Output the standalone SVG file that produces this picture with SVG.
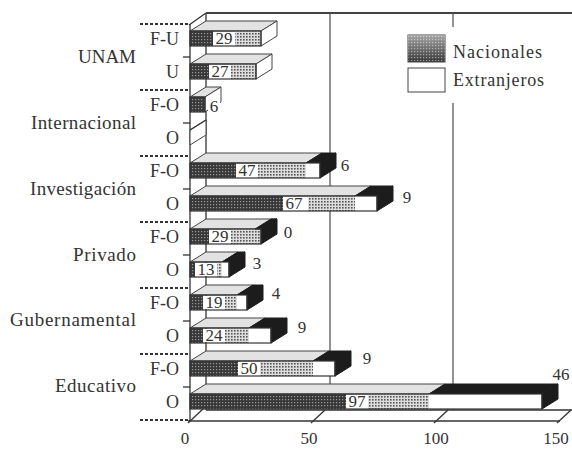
<svg xmlns="http://www.w3.org/2000/svg" width="572" height="449" viewBox="0 0 572 449">
<defs>
<pattern id="pd" width="3" height="3" patternUnits="userSpaceOnUse"><rect width="3" height="3" fill="#383838"/><rect x="0" y="0" width="1.2" height="1.2" fill="#9a9a9a"/></pattern>
<pattern id="pl" width="3" height="3" patternUnits="userSpaceOnUse"><rect width="3" height="3" fill="#dedede"/><rect x="0" y="0" width="1.6" height="1.6" fill="#555"/></pattern>
<linearGradient id="lg" x1="0" y1="0" x2="0" y2="1"><stop offset="0" stop-color="#fff" stop-opacity="0.55"/><stop offset="1" stop-color="#fff" stop-opacity="0"/></linearGradient>
<style>
text{font-family:"Liberation Serif","Times New Roman",serif;fill:#333}
.cat{font-size:19px;text-anchor:end}
.sub{font-size:18px;text-anchor:end}
.num{font-size:17px;text-anchor:middle}
.ln{stroke:#333;stroke-width:1.3;fill:none}
.grid{stroke:#777;stroke-width:1.6}
.sep{stroke:#333;stroke-width:2;stroke-dasharray:3 2}
.top{fill:#e2e2e2;stroke:#444;stroke-width:1}
.topx{fill:#1c1c1c;stroke:#1c1c1c;stroke-width:1}
.sideb{fill:#1c1c1c;stroke:#1c1c1c;stroke-width:1}
.sidew{fill:#fff;stroke:#444;stroke-width:1}
.fr{fill:none;stroke:#333;stroke-width:1.2}
.dk{fill:url(#pd)}
.lt{fill:url(#pl)}
.wh{fill:#fff}
</style>
</defs>
<rect width="572" height="449" fill="#fff"/>

<g id="frame">
<line class="grid" x1="330" y1="13" x2="330" y2="410"/>
<line class="grid" x1="453" y1="13" x2="453" y2="410"/>
<line class="ln" x1="206" y1="13" x2="206" y2="410"/>
<line x1="206" y1="13" x2="572" y2="13" stroke="#444" stroke-width="2"/>
<line class="ln" x1="189" y1="25" x2="206" y2="13"/>
<line class="ln" x1="190" y1="24" x2="190" y2="421"/>
<line class="ln" x1="188" y1="421" x2="560" y2="421"/>
<line class="ln" x1="206" y1="410" x2="572" y2="410"/>
<line class="ln" x1="188" y1="423" x2="203" y2="409"/>
<line class="ln" x1="311" y1="423" x2="325" y2="410"/>
<line class="ln" x1="434" y1="423" x2="448" y2="410"/>
<line class="ln" x1="557" y1="423" x2="571" y2="410"/>
<line class="sep" x1="140" y1="24" x2="190" y2="24"/>
<line class="sep" x1="140" y1="90" x2="190" y2="90"/>
<line class="sep" x1="140" y1="156" x2="190" y2="156"/>
<line class="sep" x1="140" y1="222" x2="190" y2="222"/>
<line class="sep" x1="140" y1="288" x2="190" y2="288"/>
<line class="sep" x1="140" y1="354" x2="190" y2="354"/>
<line class="sep" x1="140" y1="420" x2="190" y2="420"/>
<line class="ln" x1="183" y1="57" x2="190" y2="57"/>
<line class="ln" x1="183" y1="123" x2="190" y2="123"/>
<line class="ln" x1="183" y1="189" x2="190" y2="189"/>
<line class="ln" x1="183" y1="255" x2="190" y2="255"/>
<line class="ln" x1="183" y1="321" x2="190" y2="321"/>
<line class="ln" x1="183" y1="387" x2="190" y2="387"/>
<text class="num" x="185" y="444">0</text>
<text class="num" x="309" y="444">50</text>
<text class="num" x="436" y="444">100</text>
<text class="num" x="556" y="444">150</text>
</g>

<g id="categories">
<text class="cat" x="136" y="63" textLength="58">UNAM</text>
<text class="cat" x="136" y="129" textLength="105">Internacional</text>
<text class="cat" x="136" y="195" textLength="106">Investigación</text>
<text class="cat" x="136" y="261" textLength="63">Privado</text>
<text class="cat" x="136" y="326" textLength="126">Gubernamental</text>
<text class="cat" x="136" y="392" textLength="81">Educativo</text>
<text class="sub" x="179" y="45">F-U</text>
<text class="sub" x="179" y="78">U</text>
<text class="sub" x="179" y="111">F-O</text>
<text class="sub" x="179" y="144">O</text>
<text class="sub" x="179" y="177">F-O</text>
<text class="sub" x="179" y="210">O</text>
<text class="sub" x="179" y="243">F-O</text>
<text class="sub" x="179" y="276">O</text>
<text class="sub" x="179" y="309">F-O</text>
<text class="sub" x="179" y="342">O</text>
<text class="sub" x="179" y="375">F-O</text>
<text class="sub" x="179" y="408">O</text>
</g>

<g id="legend">
<rect x="398" y="27" width="162" height="76" fill="#fff"/>
<rect x="408" y="35" width="37" height="27" fill="url(#pd)" stroke="#444"/>
<rect x="408" y="35" width="37" height="27" fill="url(#lg)"/>
<rect x="408" y="68" width="37" height="24" fill="#fff" stroke="#444"/>
<text x="453" y="58" font-size="18" textLength="89">Nacionales</text>
<text x="453" y="86" font-size="18" textLength="91">Extranjeros</text>
</g>

<g id="bar-unam-fu">
<polygon class="top" points="190,31 261,31 277,21 206,21"/>
<rect class="dk" x="190" y="31" width="23" height="15"/>
<rect class="lt" x="235" y="31" width="26" height="15"/>
<polygon class="sidew" points="261,31 277,21 277,36 261,46"/>
<rect class="fr" x="190" y="31" width="71" height="15"/>
<rect class="wh" x="213" y="32" width="22" height="13"/>
<text class="num" x="224" y="44">29</text>
</g>
<g id="bar-unam-u">
<polygon class="top" points="190,64 256,64 272,54 206,54"/>
<rect class="dk" x="190" y="64" width="19" height="15"/>
<rect class="lt" x="231" y="64" width="25" height="15"/>
<polygon class="sidew" points="256,64 272,54 272,69 256,79"/>
<rect class="fr" x="190" y="64" width="66" height="15"/>
<rect class="wh" x="209" y="65" width="22" height="13"/>
<text class="num" x="220" y="77">27</text>
</g>
<g id="bar-int-fo">
<polygon class="top" points="190,97 205,97 221,87 206,87"/>
<rect class="dk" x="190" y="97" width="15" height="15"/>
<polygon class="sidew" points="205,97 221,87 221,102 205,112"/>
<rect class="fr" x="190" y="97" width="15" height="15"/>
<rect class="wh" x="208" y="99" width="12" height="13"/>
<text class="num" x="214" y="112">6</text>
</g>
<g id="bar-int-o">
<polygon class="sidew" points="190,130 206,120 206,135 190,145"/>
<line class="ln" x1="190" y1="130" x2="206" y2="120"/>
</g>
<g id="bar-inv-fo">
<polygon class="top" points="190,163 306,163 322,153 206,153"/>
<polygon class="topx" points="306,163 320,163 336,153 322,153"/>
<rect class="dk" x="190" y="163" width="46" height="15"/>
<rect class="lt" x="258" y="163" width="48" height="15"/>
<rect class="wh" x="306" y="163" width="14" height="15"/>
<polygon class="sideb" points="320,163 336,153 336,168 320,178"/>
<rect class="fr" x="190" y="163" width="130" height="15"/>
<rect class="wh" x="236" y="164" width="22" height="13"/>
<text class="num" x="247" y="176">47</text>
<text class="num" x="345" y="171">6</text>
</g>
<g id="bar-inv-o">
<polygon class="top" points="190,196 355,196 371,186 206,186"/>
<polygon class="topx" points="355,196 377,196 393,186 371,186"/>
<rect class="dk" x="190" y="196" width="93" height="15"/>
<rect class="lt" x="308" y="196" width="47" height="15"/>
<rect class="wh" x="355" y="196" width="22" height="15"/>
<polygon class="sideb" points="377,196 393,186 393,201 377,211"/>
<rect class="fr" x="190" y="196" width="187" height="15"/>
<rect class="wh" x="283" y="197" width="25" height="13"/>
<text class="num" x="294" y="209">67</text>
<text class="num" x="407" y="203">9</text>
</g>
<g id="bar-priv-fo">
<polygon class="top" points="190,229 261,229 277,219 206,219"/>
<rect class="dk" x="190" y="229" width="19" height="15"/>
<rect class="lt" x="231" y="229" width="30" height="15"/>
<polygon class="sideb" points="261,229 277,219 277,234 261,244"/>
<polygon class="topx" points="255,229 261,229 277,219 271,219"/>
<rect class="fr" x="190" y="229" width="71" height="15"/>
<rect class="wh" x="209" y="230" width="22" height="13"/>
<text class="num" x="220" y="242">29</text>
<text class="num" x="288" y="238">0</text>
</g>
<g id="bar-priv-o">
<polygon class="top" points="190,262 222,262 238,252 206,252"/>
<polygon class="topx" points="222,262 229,262 245,252 238,252"/>
<rect class="dk" x="190" y="262" width="5" height="15"/>
<rect class="lt" x="217" y="262" width="5" height="15"/>
<rect class="wh" x="222" y="262" width="7" height="15"/>
<polygon class="sideb" points="229,262 245,252 245,267 229,277"/>
<rect class="fr" x="190" y="262" width="39" height="15"/>
<rect class="wh" x="195" y="263" width="22" height="13"/>
<text class="num" x="206" y="275">13</text>
<text class="num" x="257" y="269">3</text>
</g>
<g id="bar-gub-fo">
<polygon class="top" points="190,295 237,295 253,285 206,285"/>
<polygon class="topx" points="237,295 247,295 263,285 253,285"/>
<rect class="dk" x="190" y="295" width="13" height="15"/>
<rect class="lt" x="225" y="295" width="12" height="15"/>
<rect class="wh" x="237" y="295" width="10" height="15"/>
<polygon class="sideb" points="247,295 263,285 263,300 247,310"/>
<rect class="fr" x="190" y="295" width="57" height="15"/>
<rect class="wh" x="203" y="296" width="22" height="13"/>
<text class="num" x="214" y="308">19</text>
<text class="num" x="276" y="299">4</text>
</g>
<g id="bar-gub-o">
<polygon class="top" points="190,328 249,328 265,318 206,318"/>
<polygon class="topx" points="249,328 271,328 287,318 265,318"/>
<rect class="dk" x="190" y="328" width="13" height="15"/>
<rect class="lt" x="225" y="328" width="24" height="15"/>
<rect class="wh" x="249" y="328" width="22" height="15"/>
<polygon class="sideb" points="271,328 287,318 287,333 271,343"/>
<rect class="fr" x="190" y="328" width="81" height="15"/>
<rect class="wh" x="203" y="329" width="22" height="13"/>
<text class="num" x="214" y="341">24</text>
<text class="num" x="302" y="333">9</text>
</g>
<g id="bar-edu-fo">
<polygon class="top" points="190,361 313,361 329,351 206,351"/>
<polygon class="topx" points="313,361 335,361 351,351 329,351"/>
<rect class="dk" x="190" y="361" width="48" height="15"/>
<rect class="lt" x="260" y="361" width="53" height="15"/>
<rect class="wh" x="313" y="361" width="22" height="15"/>
<polygon class="sideb" points="335,361 351,351 351,366 335,376"/>
<rect class="fr" x="190" y="361" width="145" height="15"/>
<rect class="wh" x="238" y="362" width="22" height="13"/>
<text class="num" x="249" y="374">50</text>
<text class="num" x="367" y="364">9</text>
</g>
<g id="bar-edu-o">
<polygon class="top" points="190,394 429,394 445,384 206,384"/>
<polygon class="topx" points="429,394 542,394 558,384 445,384"/>
<rect class="dk" x="190" y="394" width="156" height="15"/>
<rect class="lt" x="368" y="394" width="61" height="15"/>
<rect class="wh" x="429" y="394" width="113" height="15"/>
<polygon class="sideb" points="542,394 558,384 558,399 542,409"/>
<rect class="fr" x="190" y="394" width="352" height="15"/>
<rect class="wh" x="346" y="395" width="22" height="13"/>
<text class="num" x="357" y="407">97</text>
<text class="num" x="561" y="380">46</text>
</g>
</svg>
